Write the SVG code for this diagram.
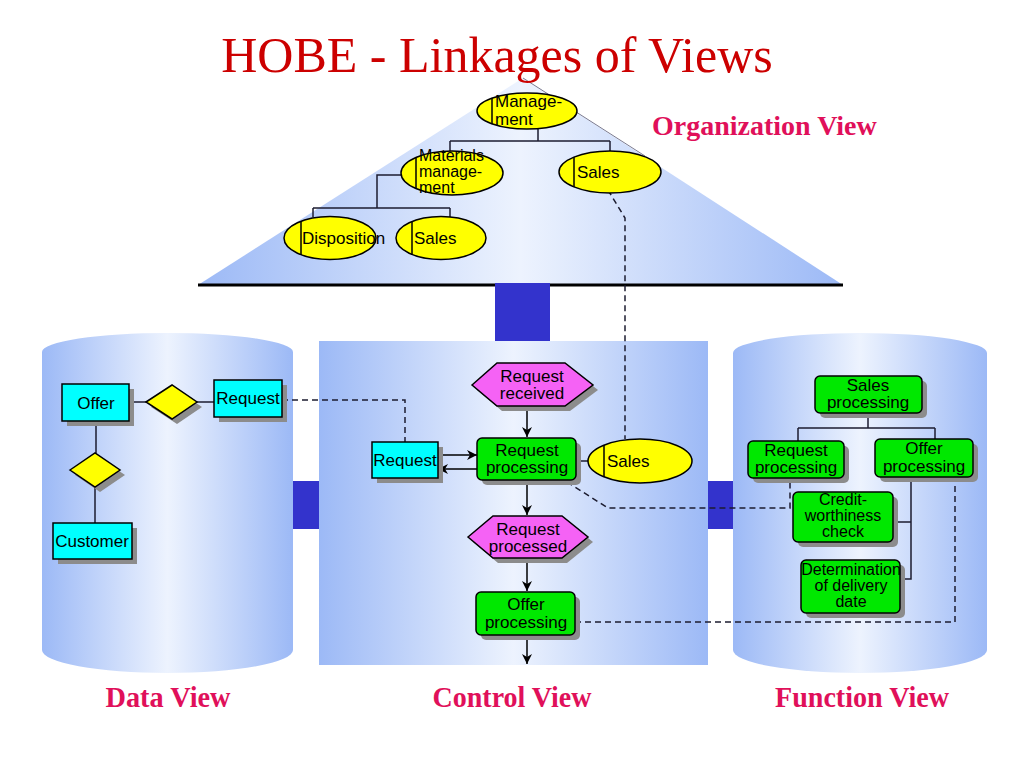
<svg xmlns="http://www.w3.org/2000/svg" width="1024" height="768" viewBox="0 0 1024 768">
<defs>
<linearGradient id="gH" x1="0" y1="0" x2="1" y2="0">
<stop offset="0" stop-color="#9cb9f6"/>
<stop offset="0.5" stop-color="#edf3fe"/>
<stop offset="1" stop-color="#9cb9f6"/>
</linearGradient>
<marker id="arr" viewBox="0 0 10 10" refX="10" refY="5" markerWidth="10" markerHeight="10" markerUnits="userSpaceOnUse" orient="auto">
<path d="M0,0 L10,5 L0,10 L3,5 z" fill="#000"/>
</marker>
<style>
.t{font-family:"Liberation Sans",Arial,sans-serif;font-size:17px;fill:#000}
.s{font-size:16px}
.c{text-anchor:middle}
.view{font-family:"Liberation Serif","Times New Roman",serif;font-weight:bold;fill:#e0105a}
.ell{fill:#ffff00;stroke:#000;stroke-width:1.5}
.cy{fill:#00ffff;stroke:#000;stroke-width:1.5}
.gr{fill:#00e800;stroke:#000;stroke-width:1.5}
.mg{fill:#f562f5;stroke:#000;stroke-width:1.5}
.dm{fill:#ffff00;stroke:#000;stroke-width:1.5}
.sh{fill:#8c8c8c}
.bar{stroke:#000;stroke-width:1.5}
.ln{fill:none;stroke:#1c1c30;stroke-width:1.5}
.ds{fill:none;stroke:#1c1c30;stroke-width:1.5;stroke-dasharray:6,4}
.ar{fill:none;stroke:#000;stroke-width:1.5;marker-end:url(#arr)}
.lk{fill:#3333cc}
</style>
</defs>
<rect x="0" y="0" width="1024" height="768" fill="#ffffff"/>

<g id="background">
<polygon points="198,285 523,78 843,285" fill="url(#gH)"/>
<line x1="523" y1="78" x2="645" y2="156" stroke="#7a7a90" stroke-width="1"/>
<line x1="198" y1="285" x2="843" y2="285" stroke="#000" stroke-width="3"/>
<path d="M42,352 A125.5,19 0 0 1 293,352 L293,650 A125.5,23 0 0 1 42,650 Z" fill="url(#gH)"/>
<rect x="319" y="341" width="389" height="324" fill="url(#gH)"/>
<path d="M733,353 A127,20 0 0 1 987,353 L987,650 A127,23 0 0 1 733,650 Z" fill="url(#gH)"/>
<rect class="lk" x="495" y="283" width="55" height="58"/>
<rect class="lk" x="293" y="481" width="26" height="48"/>
<rect class="lk" x="708" y="481" width="25" height="48"/>
</g>

<g id="titles">
<text x="497" y="72" text-anchor="middle" font-family="Liberation Serif,'Times New Roman',serif" font-size="50" fill="#cc0000">HOBE - Linkages of Views</text>
<text class="view" x="652" y="135" font-size="28">Organization View</text>
<text class="view" x="168" y="707" font-size="30" text-anchor="middle" textLength="125" lengthAdjust="spacingAndGlyphs">Data View</text>
<text class="view" x="512" y="707" font-size="30" text-anchor="middle" textLength="159" lengthAdjust="spacingAndGlyphs">Control View</text>
<text class="view" x="862" y="707" font-size="30" text-anchor="middle" textLength="174" lengthAdjust="spacingAndGlyphs">Function View</text>
</g>

<g id="connectors">
<path class="ln" d="M538,129 L538,141 M450,141 L610,141 M450,141 L450,151 M610,141 L610,151"/>
<path class="ln" d="M401,175 L377,175 L377,208 M313,208 L450,208 M313,208 L313,217 M450,208 L450,217"/>
<path class="ds" d="M608,190 L625,218 L625,439"/>
<path class="ln" d="M129,402 L146,402 M197,402 L214,402 M96,421 L96,453 M95,487 L95,523"/>
<path class="ds" d="M282,400 L405,400 L405,442"/>
<path class="ar" d="M527,406 L527,437"/>
<path class="ar" d="M438,455 L477,455"/>
<path class="ar" d="M477,469 L438,469"/>
<path class="ln" d="M576,461 L588,461"/>
<path class="ar" d="M527,480 L527,515"/>
<path class="ar" d="M527,558 L527,591"/>
<path class="ar" d="M527,635 L527,664"/>
<path class="ds" d="M567,482 L608,508 L790,508 L790,478"/>
<path class="ds" d="M575,622 L955,622 L955,477"/>
<path class="ln" d="M868,413 L868,428 M798,428 L935,428 M798,428 L798,441 M935,428 L935,439"/>
<path class="ln" d="M911,477 L911,579 L900,579 M893,522 L911,522"/>
</g>

<g id="org-management">
<ellipse class="ell" cx="527" cy="111" rx="50" ry="18"/>
<line class="bar" x1="492" y1="98" x2="492" y2="124"/>
<text class="t" x="495" y="107">Manage-</text>
<text class="t" x="495" y="125">ment</text>
</g>
<g id="org-materials">
<ellipse class="ell" cx="452" cy="173" rx="51" ry="22"/>
<line class="bar" x1="416" y1="157" x2="416" y2="189"/>
<text class="t s" x="419" y="161">Materials</text>
<text class="t s" x="419" y="177">manage-</text>
<text class="t s" x="419" y="193">ment</text>
</g>
<g id="org-sales">
<ellipse class="ell" cx="610" cy="172" rx="51" ry="21"/>
<line class="bar" x1="574" y1="157" x2="574" y2="187"/>
<text class="t" x="577" y="178">Sales</text>
</g>
<g id="org-disposition">
<ellipse class="ell" cx="330" cy="238" rx="46" ry="21.5"/>
<line class="bar" x1="301" y1="221" x2="301" y2="255"/>
<text class="t" x="302" y="244">Disposition</text>
</g>
<g id="org-sales-2">
<ellipse class="ell" cx="441" cy="238" rx="45" ry="21.5"/>
<line class="bar" x1="412" y1="222" x2="412" y2="254"/>
<text class="t" x="414" y="244">Sales</text>
</g>

<g id="data-offer">
<rect class="sh" x="67" y="389" width="67" height="37"/>
<rect class="cy" x="62" y="384" width="67" height="37"/>
<text class="t c" x="96" y="409">Offer</text>
</g>
<g id="data-rel-1">
<polygon class="sh" points="151,407 177,390 202,407 177,424"/>
<polygon class="dm" points="146,402 172,385 197,402 172,419"/>
</g>
<g id="data-request">
<rect class="sh" x="219" y="385" width="68" height="37"/>
<rect class="cy" x="214" y="380" width="68" height="37"/>
<text class="t c" x="248" y="404">Request</text>
</g>
<g id="data-rel-2">
<polygon class="sh" points="75,475 100,458 125,475 100,492"/>
<polygon class="dm" points="70,470 95,453 120,470 95,487"/>
</g>
<g id="data-customer">
<rect class="sh" x="58" y="528" width="79" height="36"/>
<rect class="cy" x="53" y="523" width="79" height="36"/>
<text class="t c" x="92" y="547">Customer</text>
</g>

<g id="ctrl-request-received">
<polygon class="sh" points="477,390 502,368 570,368 598,390 570,411 502,411"/>
<polygon class="mg" points="472,385 497,363 565,363 593,385 565,406 497,406"/>
<text class="t c" x="532" y="382">Request</text>
<text class="t c" x="532" y="399">received</text>
</g>
<g id="ctrl-request">
<rect class="sh" x="377" y="447" width="66" height="36"/>
<rect class="cy" x="372" y="442" width="66" height="36"/>
<text class="t c" x="405" y="466">Request</text>
</g>
<g id="ctrl-request-processing">
<rect class="sh" x="482" y="443" width="99" height="42" rx="5"/>
<rect class="gr" x="477" y="438" width="99" height="42" rx="5"/>
<text class="t c" x="527" y="456">Request</text>
<text class="t c" x="527" y="473">processing</text>
</g>
<g id="ctrl-sales">
<ellipse class="ell" cx="640" cy="461" rx="52" ry="22"/>
<line class="bar" x1="604" y1="445" x2="604" y2="477"/>
<text class="t" x="607" y="467">Sales</text>
</g>
<g id="ctrl-request-processed">
<polygon class="sh" points="473,542 498,521 567,521 593,542 567,563 498,563"/>
<polygon class="mg" points="468,537 493,516 562,516 588,537 562,558 493,558"/>
<text class="t c" x="528" y="535">Request</text>
<text class="t c" x="528" y="552">processed</text>
</g>
<g id="ctrl-offer-processing">
<rect class="sh" x="481" y="597" width="99" height="43" rx="5"/>
<rect class="gr" x="476" y="592" width="99" height="43" rx="5"/>
<text class="t c" x="526" y="610">Offer</text>
<text class="t c" x="526" y="628">processing</text>
</g>

<g id="fn-sales-processing">
<rect class="sh" x="820" y="381" width="107" height="37" rx="5"/>
<rect class="gr" x="815" y="376" width="107" height="37" rx="5"/>
<text class="t c" x="868" y="391">Sales</text>
<text class="t c" x="868" y="408">processing</text>
</g>
<g id="fn-request-processing">
<rect class="sh" x="753" y="446" width="96" height="37" rx="5"/>
<rect class="gr" x="748" y="441" width="96" height="37" rx="5"/>
<text class="t c" x="796" y="456">Request</text>
<text class="t c" x="796" y="473">processing</text>
</g>
<g id="fn-offer-processing">
<rect class="sh" x="880" y="444" width="98" height="38" rx="5"/>
<rect class="gr" x="875" y="439" width="98" height="38" rx="5"/>
<text class="t c" x="924" y="454">Offer</text>
<text class="t c" x="924" y="472">processing</text>
</g>
<g id="fn-credit-check">
<rect class="sh" x="798" y="497" width="100" height="50" rx="5"/>
<rect class="gr" x="793" y="492" width="100" height="50" rx="5"/>
<text class="t s c" x="843" y="505">Credit-</text>
<text class="t s c" x="843" y="521">worthiness</text>
<text class="t s c" x="843" y="537">check</text>
</g>
<g id="fn-delivery-date">
<rect class="sh" x="806" y="565" width="99" height="53" rx="5"/>
<rect class="gr" x="801" y="560" width="99" height="53" rx="5"/>
<text class="t s c" x="851" y="575">Determination</text>
<text class="t s c" x="851" y="591">of delivery</text>
<text class="t s c" x="851" y="607">date</text>
</g>
</svg>
